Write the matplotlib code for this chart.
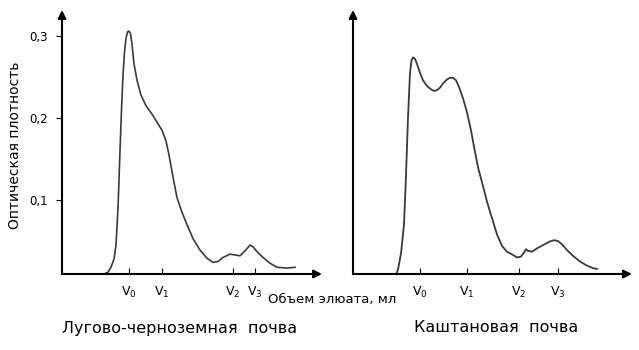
import matplotlib.pyplot as plt

# Лугово-черноземная почва (объем в усл. ед., оптическая плотность)
vol_left = [0, 42, 46, 49, 52, 54, 56, 58, 59.5, 61, 62.5, 64, 65.5, 67, 68.5, 70,
            72, 75, 79, 84, 91, 100, 104, 107, 111, 115, 120, 125, 131, 138, 145,
            151, 156, 161, 168, 173, 178, 183, 188, 191, 195, 201, 208, 215, 225, 233]
od_left = [0.0098, 0.0098, 0.012, 0.018, 0.028, 0.045, 0.09, 0.16, 0.21, 0.252,
           0.28, 0.297, 0.305, 0.306, 0.303, 0.29, 0.266, 0.246, 0.228, 0.215,
           0.203, 0.185, 0.172, 0.155, 0.128, 0.103, 0.085, 0.070, 0.053, 0.039,
           0.029, 0.024, 0.025, 0.030, 0.034, 0.033, 0.032, 0.038, 0.045, 0.043,
           0.037, 0.030, 0.023, 0.018, 0.017, 0.018]
ticks_left = [67, 100, 171, 193]

# Каштановая почва
vol_right = [43, 45, 48, 51, 53, 55, 57, 58.5, 60, 62, 64, 67, 70, 74, 78, 81, 84,
             87, 90, 94, 97, 100, 103, 106, 110, 114, 118, 121, 125, 130, 134, 139,
             144, 149, 154, 160, 164, 168, 171, 173, 175, 179, 184, 190, 196, 201,
             205, 209, 214, 220, 227, 234, 240, 244]
od_right = [0.0098, 0.015, 0.035, 0.07, 0.13, 0.2, 0.255, 0.27, 0.274, 0.272, 0.266,
            0.255, 0.246, 0.239, 0.235, 0.233, 0.234, 0.237, 0.242, 0.247, 0.249,
            0.249, 0.246, 0.238, 0.224, 0.207, 0.185, 0.165, 0.14, 0.117, 0.098,
            0.078, 0.058, 0.044, 0.037, 0.033, 0.030, 0.031, 0.036, 0.040, 0.038,
            0.037, 0.041, 0.045, 0.049, 0.051, 0.050, 0.046, 0.039, 0.032, 0.025,
            0.020, 0.017, 0.016]
ticks_right = [67, 114, 166, 205]

tick_labels = [r'$\mathregular{V_0}$', r'$\mathregular{V_1}$',
               r'$\mathregular{V_2}$', r'$\mathregular{V_3}$']

line_color = '#3a3a3a'
ylo, yhi = 0.0098, 0.3317

fig = plt.figure(figsize=(6.39, 3.5), dpi=100)
ax1 = fig.add_axes([62 / 639, 1 - 274 / 350, 260 / 639, 264 / 350])
ax2 = fig.add_axes([353 / 639, 1 - 274 / 350, 279 / 639, 264 / 350])


def setup(ax, xmax, ticks, with_y):
    ax.set_xlim(0, xmax)
    ax.set_ylim(ylo, yhi)
    for s in ax.spines.values():
        s.set_visible(False)
    # оси со стрелками
    ax.annotate('', xy=(1, 0), xytext=(0, 0), xycoords='axes fraction',
                arrowprops=dict(arrowstyle='-|>', color='black', lw=1.5,
                                mutation_scale=12, shrinkA=0, shrinkB=0))
    ax.annotate('', xy=(0, 1), xytext=(0, 0), xycoords='axes fraction',
                arrowprops=dict(arrowstyle='-|>', color='black', lw=1.5,
                                mutation_scale=12, shrinkA=0, shrinkB=0))
    ax.set_xticks(ticks)
    ax.set_xticklabels(tick_labels, fontsize=9)
    ax.tick_params(axis='x', direction='in', length=4, width=0.8, pad=8)
    if with_y:
        ax.set_yticks([0.1, 0.2, 0.3])
        ax.set_yticklabels(['0,1', '0,2', '0,3'], fontsize=8.5)
        ax.tick_params(axis='y', direction='out', length=4, width=0.8, pad=6)
    else:
        ax.set_yticks([])
    ax.patch.set_visible(False)


setup(ax1, 260, ticks_left, True)
setup(ax2, 279, ticks_right, False)

ax1.plot(vol_left, od_left, color=line_color, lw=1.2, solid_joinstyle='round')
ax2.plot(vol_right, od_right, color=line_color, lw=1.3, solid_joinstyle='round')

fig.text(15 / 639, 1 - 145 / 350, 'Оптическая плотность', rotation=90,
         ha='center', va='center', fontsize=10)
fig.text(268 / 639, 1 - 300 / 350, 'Объем элюата, мл', ha='left', va='center',
         fontsize=9.5)
fig.text(180 / 639, 1 - 328 / 350, 'Лугово-черноземная  почва', ha='center',
         va='center', fontsize=11.5)
fig.text(496 / 639, 1 - 328 / 350, 'Каштановая  почва', ha='center',
         va='center', fontsize=11.5)

fig.savefig('out.png', dpi=100)
